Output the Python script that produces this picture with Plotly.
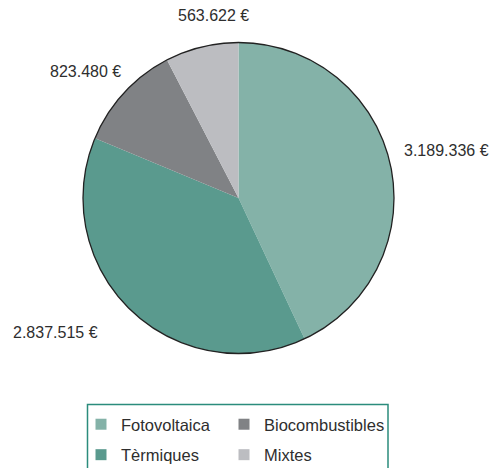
import plotly.graph_objects as go

categories = ["Fotovoltaica", "Tèrmiques", "Biocombustibles", "Mixtes"]
values = [3189336, 2837515, 823480, 563622]
colors = ["#84b2a8", "#5a9a8e", "#808285", "#bcbdc1"]

legend_col = {"Fotovoltaica": "legend", "Tèrmiques": "legend",
              "Biocombustibles": "legend2", "Mixtes": "legend2"}

label_pos = [(446, 150), (55, 332), (85, 71), (213, 16)]

W, H = 492, 480
FONT = "Liberation Sans, Arial, sans-serif"
TXT = "#2e2e2e"

def fmt(v):
    return f"{v:,}".replace(",", ".") + " €"

def py(y_img):
    return 1 - y_img / H

cx, cy, r = 238.5, 198, 155.5

fig = go.Figure()
fig.add_trace(go.Pie(
    labels=categories, values=values, sort=False, direction="clockwise",
    rotation=0, marker=dict(colors=colors, line=dict(width=0)),
    textinfo="none", hoverinfo="label+value", showlegend=False,
    domain=dict(x=[(cx - r) / W, (cx + r) / W], y=[py(cy + r), py(cy - r)]),
))

for cat, col in zip(categories, colors):
    fig.add_trace(go.Scatter(
        x=[None], y=[None], mode="markers", name=cat,
        marker=dict(symbol="square", size=11, color=col),
        legend=legend_col[cat], legendgroup=cat, showlegend=True,
    ))

for (x, y), v in zip(label_pos, values):
    fig.add_annotation(x=x / W, y=py(y), xref="paper", yref="paper",
                       text=fmt(v), showarrow=False, xanchor="center", yanchor="middle",
                       font=dict(family=FONT, size=16, color=TXT))

fig.add_shape(type="circle", xref="paper", yref="paper",
              x0=(cx - r) / W, x1=(cx + r) / W, y0=py(cy + r), y1=py(cy - r),
              line=dict(color="#222222", width=1.3))
fig.add_shape(type="rect", xref="paper", yref="paper",
              x0=87.5 / W, x1=388 / W, y0=py(495), y1=py(404.5),
              line=dict(color="#2b8c7c", width=1.5))

leg = dict(orientation="v", yanchor="top", xanchor="left", bgcolor="rgba(0,0,0,0)",
           font=dict(family=FONT, size=16.5, color=TXT), tracegroupgap=6,
           traceorder="grouped", itemwidth=30)
fig.update_layout(
    width=W, height=H, margin=dict(l=0, r=0, t=0, b=0),
    paper_bgcolor="white", plot_bgcolor="white",
    xaxis=dict(visible=False), yaxis=dict(visible=False),
    legend=dict(leg, x=81 / W, y=py(407)),
    legend2=dict(leg, x=224 / W, y=py(407)),
    showlegend=True,
)
fig.write_html("out.html", config={"displayModeBar": False},
               post_script="document.body.style.margin='0';document.documentElement.style.overflow='hidden';document.body.style.overflow='hidden';")
